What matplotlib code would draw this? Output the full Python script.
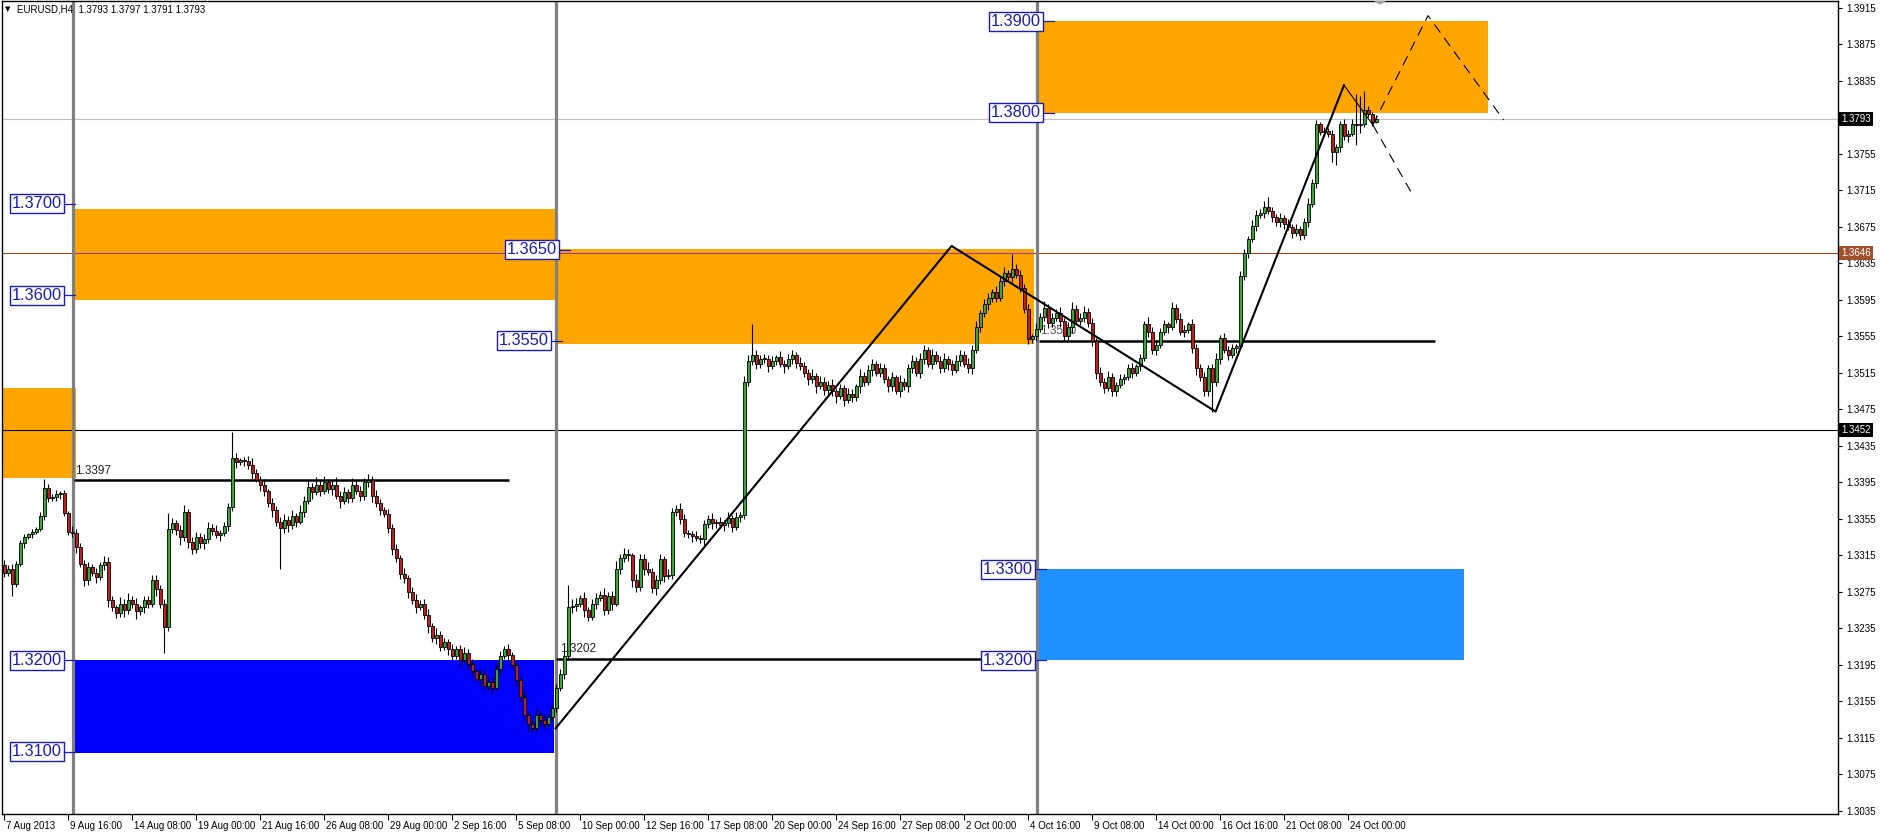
"""EURUSD H4 chart with supply/demand zones, price labels and zigzag projection."""
import matplotlib
matplotlib.use('Agg')
import matplotlib.pyplot as plt
import matplotlib.transforms as mtransforms
from matplotlib.patches import Rectangle, Polygon
import numpy as np

plt.rcParams['font.family'] = ['Liberation Sans', 'DejaVu Sans']

# ---- candle data (pips above 1.3000), one value per H4 bar ----
FIRST_OPEN = 304
CLOSE_PIPS = [
    296, 300, 284, 306, 328, 335, 338, 341, 344, 358,
    389, 378, 379, 382, 383, 361, 341, 340, 324, 306,
    288, 302, 296, 291, 304, 308, 266, 258, 252, 262,
    255, 266, 262, 254, 258, 266, 262, 288, 278, 262,
    236, 344, 350, 343, 335, 362, 330, 322, 335, 328,
    333, 345, 342, 337, 340, 347, 368, 422, 417, 419,
    418, 414, 405, 398, 392, 385, 372, 365, 352, 345,
    354, 348, 358, 352, 362, 375, 390, 384, 392, 386,
    395, 388, 392, 380, 375, 384, 378, 392, 385, 380,
    395, 398, 380, 372, 365, 360, 345, 322, 312, 295,
    290, 275, 266, 258, 262, 250, 238, 224, 228, 215,
    220, 212, 205, 212, 200, 208, 196, 188, 180, 185,
    172, 176, 170, 190, 205, 212, 206, 195, 178, 160,
    140, 130, 126, 140, 135, 130, 138, 148, 170, 185,
    205, 258, 259, 262, 268, 255, 248, 262, 268, 272,
    255, 270, 262, 300, 312, 317, 315, 288, 280, 311,
    300, 297, 279, 288, 311, 292, 294, 362, 366, 355,
    340, 338, 336, 334, 333, 349, 355, 350, 352, 348,
    350, 356, 346, 357, 359, 505, 528, 535, 525, 530,
    530, 522, 528, 532, 525, 522, 530, 535, 526, 522,
    515, 508, 512, 500, 505, 496, 502, 495, 490, 498,
    485, 492, 488, 500, 512, 505, 518, 525, 515, 520,
    508, 500, 510, 495, 505, 500, 520, 528, 515, 530,
    540, 525, 535, 528, 520, 530, 525, 518, 528, 535,
    525, 520, 540, 565, 580, 590, 597, 604, 597, 615,
    624, 620, 629, 622, 608, 585, 552, 555, 563, 576,
    586, 570, 575, 580, 572, 555, 565, 585, 572, 575,
    582, 570, 550, 515, 505, 498, 510, 495, 502, 508,
    510, 520, 515, 522, 531, 568, 560, 540, 545, 560,
    568, 565, 586, 574, 560, 562, 568, 542, 520, 510,
    495, 520, 505, 530, 553, 540, 535, 542, 544, 621,
    646, 661, 676, 688, 690, 697, 692, 686, 680, 684,
    678, 675, 668, 672, 666, 680, 700, 723, 787, 779,
    780, 776, 757, 762, 788, 774, 777, 787, 786, 788,
    803, 798, 790, 793,
]
UP_WICK = [
    6, 4, 5, 3, 4, 3, 2, 3, 2, 4,
    10, 4, 3, 5, 3, 4, 3, 6, 4, 5,
    4, 6, 3, 5, 4, 6, 5, 4, 3, 7,
    5, 8, 4, 6, 3, 5, 4, 6, 5, 4,
    5, 17, 6, 4, 5, 8, 4, 5, 6, 4,
    5, 7, 4, 6, 3, 5, 4, 28, 5, 3,
    4, 6, 8, 5, 4, 7, 3, 6, 4, 5,
    6, 4, 7, 3, 8, 5, 6, 4, 9, 5,
    7, 4, 6, 9, 5, 6, 4, 8, 5, 6,
    5, 6, 4, 7, 5, 3, 6, 4, 5, 3,
    6, 4, 5, 7, 4, 5, 6, 3, 7, 4,
    5, 3, 6, 4, 5, 7, 4, 5, 3, 6,
    4, 5, 6, 8, 5, 4, 6, 3, 5, 4,
    6, 3, 5, 8, 4, 6, 3, 5, 4, 6,
    5, 24, 8, 6, 4, 7, 3, 5, 6, 4,
    7, 5, 6, 9, 4, 6, 5, 3, 7, 6,
    5, 8, 4, 6, 5, 3, 6, 5, 4, 6,
    5, 3, 4, 6, 3, 5, 4, 6, 3, 5,
    4, 6, 3, 5, 4, 7, 6, 33, 5, 4,
    6, 4, 5, 3, 7, 4, 6, 5, 3, 6,
    5, 4, 7, 3, 6, 5, 4, 6, 3, 5,
    4, 6, 5, 3, 7, 4, 6, 5, 3, 6,
    5, 4, 6, 3, 8, 4, 5, 6, 4, 7,
    5, 3, 6, 4, 5, 7, 3, 4, 6, 5,
    4, 6, 5, 7, 4, 6, 5, 3, 6, 5,
    7, 4, 16, 5, 6, 4, 5, 3, 6, 5,
    8, 4, 6, 5, 7, 3, 6, 8, 4, 5,
    6, 4, 5, 3, 6, 4, 7, 5, 3, 6,
    4, 5, 6, 3, 5, 4, 8, 5, 6, 4,
    5, 3, 6, 4, 7, 5, 3, 6, 4, 5,
    6, 4, 5, 7, 3, 6, 4, 5, 3, 6,
    5, 4, 6, 5, 4, 6, 10, 5, 3, 6,
    4, 5, 3, 6, 4, 5, 6, 4, 5, 3,
    4, 3, 5, 4, 3, 5, 4, 6, 33, 30,
    21, 4, 3, 4,
]
DN_WICK = [
    5, 4, 13, 4, 3, 5, 2, 4, 3, 2,
    4, 5, 3, 4, 5, 3, 4, 5, 6, 4,
    7, 5, 4, 6, 3, 5, 8, 4, 6, 5,
    7, 4, 5, 9, 4, 6, 5, 4, 7, 5,
    28, 4, 5, 6, 9, 4, 7, 6, 4, 5,
    6, 4, 5, 3, 6, 4, 5, 4, 6, 3,
    5, 4, 6, 3, 7, 5, 4, 8, 5, 45,
    5, 7, 4, 6, 3, 5, 4, 7, 3, 6,
    4, 5, 7, 3, 8, 4, 6, 5, 3, 6,
    4, 5, 7, 4, 6, 3, 5, 7, 4, 6,
    5, 7, 4, 6, 3, 5, 8, 4, 6, 5,
    4, 6, 5, 3, 7, 4, 6, 5, 4, 8,
    5, 4, 6, 3, 5, 4, 7, 5, 6, 4,
    6, 8, 5, 4, 6, 5, 4, 6, 5, 4,
    5, 4, 6, 5, 4, 7, 5, 4, 6, 3,
    5, 4, 7, 3, 5, 4, 6, 8, 5, 4,
    6, 4, 5, 7, 4, 6, 3, 5, 4, 6,
    5, 4, 6, 3, 5, 7, 4, 6, 5, 3,
    6, 4, 5, 3, 6, 4, 5, 4, 6, 5,
    4, 6, 3, 5, 4, 7, 3, 5, 6, 4,
    5, 6, 4, 7, 3, 5, 4, 6, 8, 4,
    6, 3, 5, 4, 7, 5, 3, 6, 4, 5,
    4, 6, 5, 3, 7, 4, 6, 5, 3, 6,
    5, 4, 6, 3, 5, 4, 7, 5, 3, 6,
    4, 5, 6, 3, 5, 4, 6, 5, 4, 3,
    5, 4, 6, 3, 4, 5, 6, 4, 5, 3,
    4, 6, 5, 3, 7, 5, 4, 6, 3, 5,
    4, 5, 6, 7, 4, 5, 3, 6, 5, 4,
    5, 3, 6, 4, 5, 3, 6, 4, 5, 3,
    4, 6, 3, 5, 4, 6, 3, 5, 7, 4,
    5, 6, 33, 4, 5, 3, 6, 4, 5, 3,
    4, 5, 3, 6, 4, 5, 3, 6, 4, 5,
    6, 4, 5, 3, 6, 4, 5, 3, 6, 4,
    5, 3, 11, 14, 5, 4, 6, 3, 22, 8,
    4, 3, 5, 1,
]

# ---- time axis ----
DATE_LABELS = ['7 Aug 2013', '9 Aug 16:00', '14 Aug 08:00', '19 Aug 00:00', '21 Aug 16:00',
               '26 Aug 08:00', '29 Aug 00:00', '2 Sep 16:00', '5 Sep 08:00', '10 Sep 00:00',
               '12 Sep 16:00', '17 Sep 08:00', '20 Sep 00:00', '24 Sep 16:00', '27 Sep 08:00',
               '2 Oct 00:00', '4 Oct 16:00', '9 Oct 08:00', '14 Oct 00:00', '16 Oct 16:00',
               '21 Oct 08:00', '24 Oct 00:00']
DATE_BARS = [0, 16, 32, 48, 64, 80, 96, 112, 128, 144, 160, 176, 192, 208, 224,
             240, 256, 272, 288, 304, 320, 336]
SEPARATOR_BARS = [17.25, 138, 258.25]

# ---- price axis (1.3795 sits under the bid tag, so it carries no text) ----
PRICE_TICKS = [1.3035, 1.3075, 1.3115, 1.3155, 1.3195, 1.3235, 1.3275, 1.3315, 1.3355,
               1.3395, 1.3435, 1.3475, 1.3515, 1.3555, 1.3595, 1.3635, 1.3675, 1.3715,
               1.3755, 1.3795, 1.3835, 1.3875, 1.3915]
HIDDEN_TICKS = [1.3795]

# ---- drawn objects ----
ZONE_X0 = [-1, 17.3, 138, 258.7, 257.9, 17.3]
ZONE_X1 = [18, 138, 257.6, 371, 365, 137.5]
ZONE_LO = [1.3400, 1.3595, 1.3547, 1.3800, 1.3200, 1.3098]
ZONE_HI = [1.3498, 1.3694, 1.3651, 1.3900, 1.3300, 1.3200]
ZONE_COLORS = ['#FFA500', '#FFA500', '#FFA500', '#FFA500', '#1E90FF', '#0000FF']

TAG_TEXT = ['1.3700', '1.3600', '1.3200', '1.3100', '1.3650', '1.3550',
            '1.3900', '1.3800', '1.3300', '1.3200']
TAG_BAR = [17.8, 17.8, 17.8, 17.8, 141.5, 139.5, 262.5, 262.5, 260.5, 260.5]
TAG_PRICE = [1.3700, 1.3600, 1.3200, 1.3100, 1.3650, 1.3550, 1.3900, 1.3800, 1.3300, 1.3200]

LEVEL_X0 = [17.5, 138, 258.8]
LEVEL_X1 = [126.2, 257.5, 357.8]
LEVEL_PRICE = [1.3397, 1.3202, 1.3550]

ZIG_BARS = [137.9, 236.9, 302.9, 335.0]
ZIG_PRICE = [1.31255, 1.36539, 1.34725, 1.38300]
PROJ_A_BARS = [342.2, 356.0, 374.9]
PROJ_A_PRICE = [1.37866, 1.39062, 1.37919]
PROJ_B_BARS = [342.2, 352.1]
PROJ_B_PRICE = [1.37866, 1.37104]

BID = 1.3793
LINE_BROWN = 1.3646
LINE_BLACK = 1.3452

W, H = 1882, 834
X_LEFT, X_RIGHT, Y_BOTTOM = 2, 1838, 814
AXIS_FS = 7.0


def main():
    closes = np.array(CLOSE_PIPS) / 10000 + 1.3
    opens = np.r_[FIRST_OPEN / 10000 + 1.3, closes[:-1]]
    highs = np.maximum(opens, closes) + np.array(UP_WICK) / 10000
    lows = np.minimum(opens, closes) - np.array(DN_WICK) / 10000
    bars = np.arange(len(closes))

    fig = plt.figure(figsize=(W / 100, H / 100), dpi=100)
    ax = fig.add_axes([X_LEFT / W, (H - Y_BOTTOM) / H,
                       (X_RIGHT - X_LEFT) / W, (Y_BOTTOM - 1) / H])
    ax.set_xlim((X_LEFT - 4) / 4, (X_RIGHT - 4) / 4)
    ax.set_ylim(1.30317, 1.39222)

    # zones
    for x0, x1, lo, hi, c in zip(ZONE_X0, ZONE_X1, ZONE_LO, ZONE_HI, ZONE_COLORS):
        ax.add_patch(Rectangle((x0, lo), x1 - x0, hi - lo, color=c, lw=0, zorder=1))

    # full-width horizontal lines
    ax.axhline(LINE_BROWN, color='#8B4A1C', lw=0.8, zorder=0.5)
    ax.plot([17.3, 257.6], [LINE_BROWN, LINE_BROWN], color='#9a3d9a', lw=0.8, zorder=1.5)
    ax.axhline(LINE_BLACK, color='black', lw=0.8, zorder=1.5)
    ax.axhline(BID, color='#c0c0c0', lw=0.8, zorder=1.5)

    # separators
    for s in SEPARATOR_BARS:
        ax.axvline(s, color='#808080', lw=2.3, zorder=2)

    # thick levels
    for x0, x1, p in zip(LEVEL_X0, LEVEL_X1, LEVEL_PRICE):
        ax.plot([x0, x1], [p, p], color='black', lw=1.8, zorder=2.5, solid_capstyle='butt')
    ax.text(LEVEL_X0[0] + 0.3, LEVEL_PRICE[0] + 0.0004, '1.3397', fontsize=8.5,
            color='#202020', va='bottom', ha='left', zorder=6)
    ax.text(LEVEL_X0[1] + 1.0, LEVEL_PRICE[1] + 0.0004, '1.3202', fontsize=8.5,
            color='#202020', va='bottom', ha='left', zorder=6)
    ax.text(LEVEL_X0[2] + 0.3, LEVEL_PRICE[2] + 0.0004, '1.3550', fontsize=8.5,
            color='#505050', va='bottom', ha='left', zorder=2.6)

    # candles
    up = closes >= opens
    ax.vlines(bars, lows, highs, color='black', lw=0.8, zorder=3)
    body_lo = np.minimum(opens, closes)
    body_h = np.maximum(np.abs(closes - opens), 0.00008)
    ax.bar(bars[up], body_h[up], bottom=body_lo[up], width=0.75, color='#3fa03f',
           edgecolor='black', linewidth=0.6, zorder=3.5)
    ax.bar(bars[~up], body_h[~up], bottom=body_lo[~up], width=0.75, color='#b52222',
           edgecolor='black', linewidth=0.6, zorder=3.5)

    # zigzag and projections
    ax.plot(ZIG_BARS, ZIG_PRICE, color='black', lw=1.5, zorder=4)
    ax.plot([ZIG_BARS[-1], PROJ_A_BARS[0]], [ZIG_PRICE[-1], PROJ_A_PRICE[0]],
            color='black', lw=0.8, zorder=4)
    ax.plot(PROJ_A_BARS, PROJ_A_PRICE, color='black', lw=0.8, ls=(0, (9, 6)), zorder=4)
    ax.plot(PROJ_B_BARS, PROJ_B_PRICE, color='black', lw=0.8, ls=(0, (9, 6)), zorder=4)

    # boxed price labels with stub
    for t, b, p in zip(TAG_TEXT, TAG_BAR, TAG_PRICE):
        ax.plot([b - 2.6, b], [p, p], color='#1c1cb4', lw=0.9, zorder=6)
        ax.text(b - 3.3, p, t, fontsize=11.8, color='#1c1cb4', ha='right', va='center',
                zorder=7, bbox=dict(boxstyle='square,pad=0.12', fc='white',
                                    ec='#1c1cb4', lw=1.0))

    # chart-shift marker
    ax.add_patch(Polygon([[342.5, 1.39222], [345.5, 1.39222], [344, 1.39180]],
                         closed=True, color='#a0a0a0', lw=0, zorder=6, clip_on=False))

    # frame
    for sp in ax.spines.values():
        sp.set_color('black')
        sp.set_linewidth(1.0)

    # price axis on the right
    ax.yaxis.tick_right()
    ax.set_yticks(PRICE_TICKS)
    ax.set_yticklabels(['' if p in HIDDEN_TICKS else f'{p:.4f}' for p in PRICE_TICKS])
    ax.tick_params(axis='y', direction='out', length=3, width=0.8, pad=3,
                   labelsize=AXIS_FS, colors='black')
    yt = mtransforms.blended_transform_factory(ax.transAxes, ax.transData)
    for p, fc in [(BID, 'black'), (LINE_BROWN, '#a0522d'), (LINE_BLACK, 'black')]:
        ax.text(1.0 + 3.5 / (X_RIGHT - X_LEFT), p, f'{p:.4f}', transform=yt, fontsize=AXIS_FS,
                color='white', ha='left', va='center', zorder=8, clip_on=False,
                bbox=dict(boxstyle='square,pad=0.22', fc=fc, ec=fc, lw=0))

    # time axis along the bottom
    ax.set_xticks(DATE_BARS)
    ax.set_xticklabels([])
    ax.tick_params(axis='x', direction='out', length=4, width=0.8)
    xt = mtransforms.blended_transform_factory(ax.transData, ax.transAxes)
    for b, lab in zip(DATE_BARS, DATE_LABELS):
        ax.text(b + 0.6, -12 / Y_BOTTOM, lab, transform=xt, fontsize=AXIS_FS,
                ha='left', va='center', clip_on=False)

    # header
    fig.text(5 / W, 1 - 9 / H, '\u25bc', fontsize=5, ha='left', va='center',
             family=['DejaVu Sans'])
    fig.text(17 / W, 1 - 9 / H, 'EURUSD,H4  1.3793 1.3797 1.3791 1.3793',
             fontsize=AXIS_FS, ha='left', va='center')

    fig.savefig('out.png', dpi=100, facecolor='white')
    plt.close(fig)


if __name__ == '__main__':
    main()
